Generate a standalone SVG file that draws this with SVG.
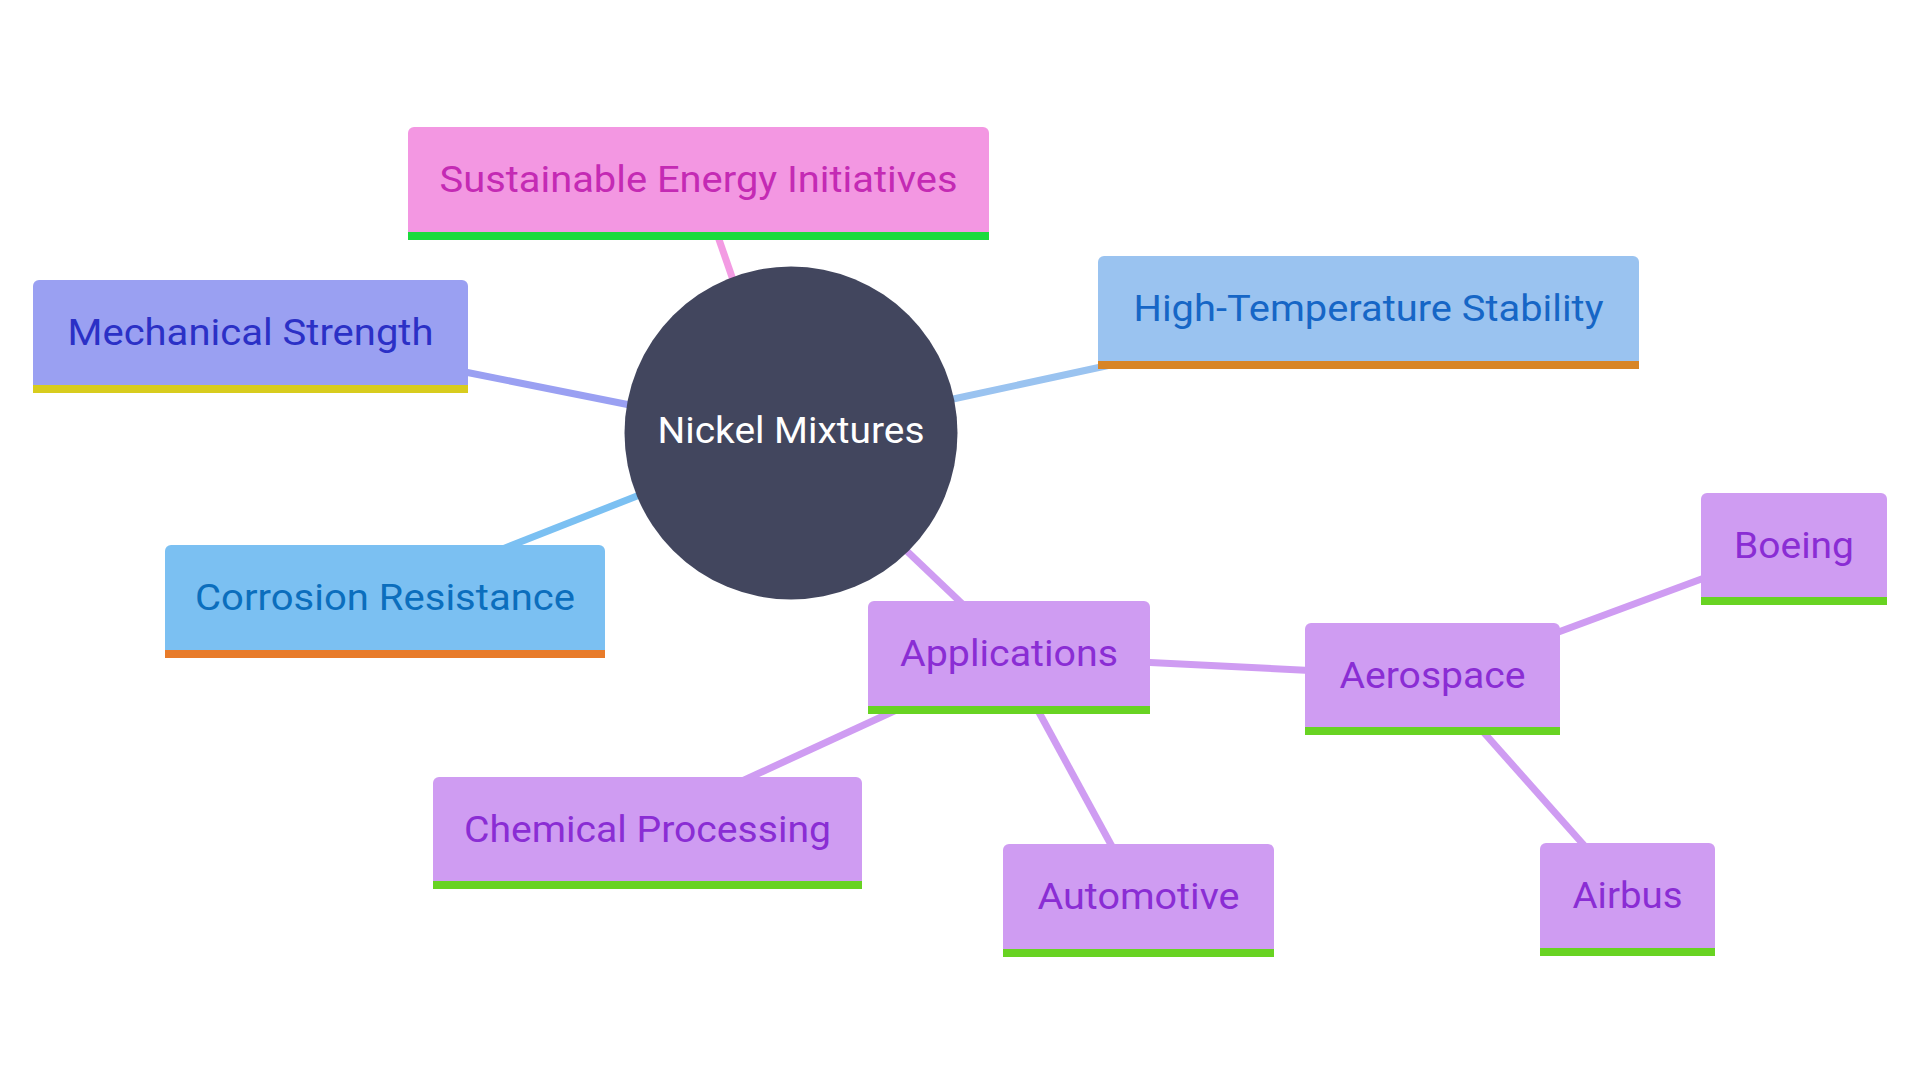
<svg xmlns="http://www.w3.org/2000/svg" width="1920" height="1080" viewBox="0 0 1920 1080">
<style>
text{font-family:Roboto,"Liberation Sans",sans-serif;font-size:37px;text-anchor:middle}
.edge{fill:none;stroke-width:7;stroke-linecap:butt}
.pk .box{fill:#F397E2}.pk text{fill:#C42AB4}.pk .bar{fill:#1BDA3C}
.ms .box{fill:#9AA0F2}.ms text{fill:#2B30C6}.ms .bar{fill:#D8CC1E}
.cr .box{fill:#7BC0F2}.cr text{fill:#0B6EBD}.cr .bar{fill:#E87B2A}
.ht .box{fill:#9AC3F0}.ht text{fill:#1666C6}.ht .bar{fill:#D88526}
.pu .box{fill:#CF9CF2}.pu text{fill:#8A2DD4}.pu .bar{fill:#68D322}
</style>
<rect width="1920" height="1080" fill="#ffffff"/>
<g id="connectors">
<line class="edge" x1="715" y1="228" x2="740" y2="300" stroke="#F39BE3"/>
<line class="edge" x1="460" y1="371" x2="660" y2="411" stroke="#9AA0F2"/>
<line class="edge" x1="500" y1="550" x2="670" y2="483" stroke="#7BC0F2"/>
<line class="edge" x1="930" y1="404" x2="1115" y2="364" stroke="#9AC3F0"/>
<line class="edge" x1="890" y1="535" x2="975" y2="616" stroke="#CF9CF2"/>
<line class="edge" x1="1140" y1="662" x2="1320" y2="671" stroke="#CF9CF2"/>
<line class="edge" x1="905" y1="706" x2="740" y2="782" stroke="#CF9CF2"/>
<line class="edge" x1="1035" y1="705" x2="1115" y2="852" stroke="#CF9CF2"/>
<line class="edge" x1="1545" y1="637" x2="1715" y2="574" stroke="#CF9CF2"/>
<line class="edge" x1="1478" y1="726" x2="1590" y2="852" stroke="#CF9CF2"/>
</g>
<g id="root">
<circle cx="791" cy="433" r="166.5" fill="#42465E"/>
<text x="791" y="443" fill="#ffffff" textLength="267" lengthAdjust="spacingAndGlyphs">Nickel Mixtures</text>
</g>
<g id="sustainable" class="pk">
<rect class="box" x="408" y="127" width="581" height="113" rx="6"/>
<rect class="bar" x="408" y="232" width="581" height="8"/>
<text x="698.5" y="192" textLength="518" lengthAdjust="spacingAndGlyphs">Sustainable Energy Initiatives</text>
</g>
<g id="mechanical" class="ms">
<rect class="box" x="33" y="280" width="435" height="113" rx="6"/>
<rect class="bar" x="33" y="385" width="435" height="8"/>
<text x="250.5" y="345" textLength="366" lengthAdjust="spacingAndGlyphs">Mechanical Strength</text>
</g>
<g id="corrosion" class="cr">
<rect class="box" x="165" y="545" width="440" height="113" rx="6"/>
<rect class="bar" x="165" y="650" width="440" height="8"/>
<text x="385" y="610" textLength="380" lengthAdjust="spacingAndGlyphs">Corrosion Resistance</text>
</g>
<g id="hightemp" class="ht">
<rect class="box" x="1098" y="256" width="541" height="113" rx="6"/>
<rect class="bar" x="1098" y="361" width="541" height="8"/>
<text x="1368.5" y="321" textLength="470" lengthAdjust="spacingAndGlyphs">High-Temperature Stability</text>
</g>
<g id="applications" class="pu">
<rect class="box" x="868" y="601" width="282" height="113" rx="6"/>
<rect class="bar" x="868" y="706" width="282" height="8"/>
<text x="1009" y="666" textLength="218" lengthAdjust="spacingAndGlyphs">Applications</text>
</g>
<g id="chemical" class="pu">
<rect class="box" x="433" y="777" width="429" height="112" rx="6"/>
<rect class="bar" x="433" y="881" width="429" height="8"/>
<text x="647.5" y="842" textLength="367" lengthAdjust="spacingAndGlyphs">Chemical Processing</text>
</g>
<g id="automotive" class="pu">
<rect class="box" x="1003" y="844" width="271" height="113" rx="6"/>
<rect class="bar" x="1003" y="949" width="271" height="8"/>
<text x="1138.5" y="909" textLength="202" lengthAdjust="spacingAndGlyphs">Automotive</text>
</g>
<g id="aerospace" class="pu">
<rect class="box" x="1305" y="623" width="255" height="112" rx="6"/>
<rect class="bar" x="1305" y="727" width="255" height="8"/>
<text x="1432.5" y="688" textLength="186" lengthAdjust="spacingAndGlyphs">Aerospace</text>
</g>
<g id="boeing" class="pu">
<rect class="box" x="1701" y="493" width="186" height="112" rx="6"/>
<rect class="bar" x="1701" y="597" width="186" height="8"/>
<text x="1794" y="558" textLength="120" lengthAdjust="spacingAndGlyphs">Boeing</text>
</g>
<g id="airbus" class="pu">
<rect class="box" x="1540" y="843" width="175" height="113" rx="6"/>
<rect class="bar" x="1540" y="948" width="175" height="8"/>
<text x="1627.5" y="908" textLength="110" lengthAdjust="spacingAndGlyphs">Airbus</text>
</g>
</svg>
